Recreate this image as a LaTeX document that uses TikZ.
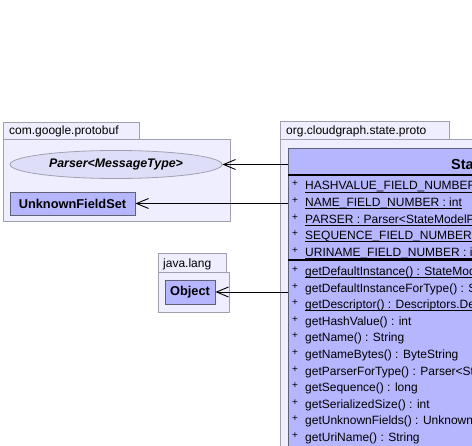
\documentclass[tikz,border=0pt]{standalone}
\usepackage{fontspec}
\setmainfont{Liberation Sans}
\usetikzlibrary{arrows.meta, positioning, shapes.geometric}

\definecolor{pkgfill}{RGB}{238,238,254}
\definecolor{pkgline}{RGB}{160,160,178}
\definecolor{classfill}{RGB}{182,182,255}
\definecolor{classline}{RGB}{96,96,120}
\definecolor{ifacefill}{RGB}{222,222,248}

% underlined (static) members
\newcommand{\statmem}[1]{\setbox0\hbox{#1}\rlap{\rule[-2.4pt]{\wd0}{0.7pt}}\box0}

\begin{document}
\begin{tikzpicture}[x=1pt, y=-1pt,
  pkg/.style={draw=pkgline, fill=pkgfill, line width=0.8pt},
  pkglabel/.style={anchor=base west, inner sep=0pt, font=\fontsize{12}{14}\selectfont},
  umlclass/.style={draw=classline, fill=classfill, line width=0.8pt, inner sep=0pt,
    font=\fontsize{12.8}{15}\selectfont\bfseries},
  iface/.style={ellipse, draw=pkgline, fill=ifacefill, line width=0.8pt, inner sep=0pt,
    font=\fontsize{12.4}{15}\selectfont\bfseries\itshape},
  member/.style={anchor=base west, inner sep=0pt, font=\fontsize{12}{14}\selectfont},
  visib/.style={anchor=base west, inner sep=0pt, font=\fontsize{10}{12}\selectfont, yshift=3pt},
  dep/.style={-{Straight Barb[length=12pt,width=10pt]}, line width=0.9pt}]
  \useasboundingbox (0,0) rectangle (472,446);
  \clip (0,0) rectangle (472,446);
  \fill[white] (0,0) rectangle (472,446);

  % com.google.protobuf
  \draw[pkg] (3,122) rectangle (139,139);
  \draw[pkg] (3,139) rectangle (230,221);
  \node[pkglabel] (protobuflabel) at (9,135) {com.google.protobuf};
  \node[iface, minimum width=212pt, minimum height=28pt] (parser) at (116,164.5) {Parser<MessageType>};
  \node[umlclass, minimum width=125pt, minimum height=23pt] (unknown) at (72.5,203.5) {UnknownFieldSet};

  % java.lang
  \draw[pkg] (158,253) rectangle (226,272);
  \draw[pkg] (158,272) rectangle (229,312);
  \node[pkglabel] (langlabel) at (163,267.5) {java.lang};
  \node[umlclass, minimum width=50pt, minimum height=24pt] (object) at (190,292) {Object};

  % org.cloudgraph.state.proto
  \draw[pkg] (280,121) rectangle (449,139);
  \draw[pkg] (280,139) rectangle (490,470);
  \node[pkglabel] (protolabel) at (286,134.5) {org.cloudgraph.state.proto};
  \node[umlclass, anchor=north west, minimum width=210pt, minimum height=320pt] (stateclass) at (288,148) {};
  \node[anchor=base west, inner sep=0pt, font=\fontsize{14.5}{17}\selectfont\bfseries] (statetitle) at (451,170) {StateModelProto};
  \draw[line width=1.6pt] (288,175) -- (498,175);
  \draw[line width=1.6pt] (288,260) -- (498,260);

  % attributes
  \foreach \row [count=\i from 0] in {%
      \statmem{HASHVALUE\_FIELD\_NUMBER : int},
      \statmem{NAME\_FIELD\_NUMBER : int},
      \statmem{PARSER : Parser<StateModelProto>},
      \statmem{SEQUENCE\_FIELD\_NUMBER : int},
      \statmem{URINAME\_FIELD\_NUMBER : int}} {
    \node[visib] (attrvis\i) at (292,{190+16.6*\i}) {+};
    \node[member] (attr\i) at (305,{190+16.6*\i}) {\row};
  }

  % operations
  \foreach \row [count=\i from 0] in {%
      \statmem{getDefaultInstance() : StateModelProto},
      getDefaultInstanceForType() : StateModelProto,
      \statmem{getDescriptor() : Descriptors.Descriptor},
      getHashValue() : int,
      getName() : String,
      getNameBytes() : ByteString,
      getParserForType() : Parser<StateModelProto>,
      getSequence() : long,
      getSerializedSize() : int,
      getUnknownFields() : UnknownFieldSet,
      getUriName() : String} {
    \node[visib] (opvis\i) at (292,{275.5+16.6*\i}) {+};
    \node[member] (op\i) at (305,{275.5+16.6*\i}) {\row};
  }

  % dependencies
  \draw[dep] (stateclass.west |- parser.east) -- (parser.east);
  \draw[dep] (stateclass.west |- unknown.east) -- (unknown.east);
  \draw[dep] (stateclass.west |- object.east) -- (object.east);
\end{tikzpicture}
\end{document}
